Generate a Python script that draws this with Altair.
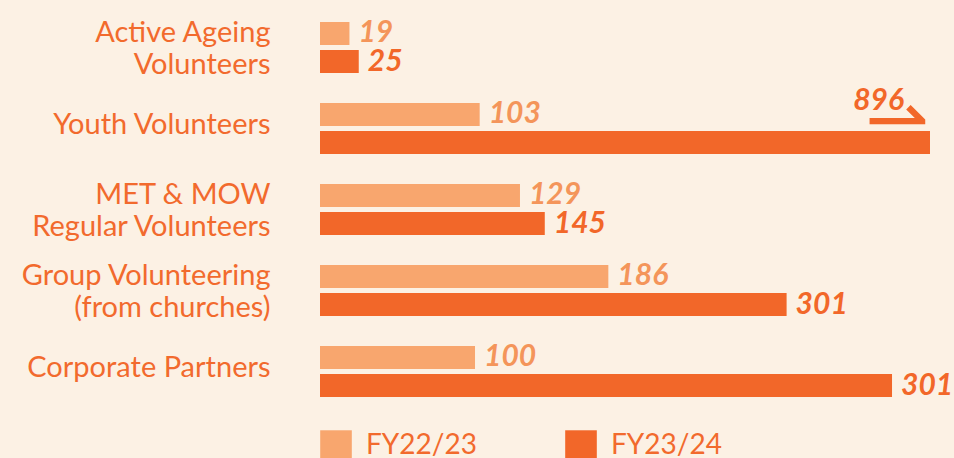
import altair as alt
import pandas as pd

categories = [
    "Active Ageing|Volunteers",
    "Youth Volunteers",
    "MET & MOW|Regular Volunteers",
    "Group Volunteering|(from churches)",
    "Corporate Partners",
]
years = ["FY22/23", "FY23/24"]
fy2223 = [19, 103, 129, 186, 100]
fy2324 = [25, 896, 145, 301, 301]
# bar lengths as drawn in the reference (Youth bar is broken at the edge,
# Corporate Partners' FY23/24 bar is drawn longer than its 301 label)
fy2324_drawn = [25, 896, 145, 301, 369]

X_MAX = 393.5

LIGHT = "#F8A66E"
DARK = "#F26729"
TEXT = "#F26A2D"
LIGHT_TEXT = "#F4955A"
BG = "#FCF1E4"

rows = []
for i, c in enumerate(categories):
    rows.append({"cat": c, "year": years[0], "len": fy2223[i],
                 "label": str(fy2223[i]), "broken": fy2223[i] > X_MAX})
    rows.append({"cat": c, "year": years[1], "len": fy2324_drawn[i],
                 "label": str(fy2324[i]), "broken": fy2324[i] > X_MAX})
df = pd.DataFrame(rows)

xscale = alt.Scale(domain=[0, X_MAX], clamp=True)

base = alt.Chart(df).encode(
    y=alt.Y(
        "cat:N",
        sort=categories,
        scale=alt.Scale(paddingInner=0.37, paddingOuter=0.185),
        axis=alt.Axis(
            title=None,
            labelExpr="split(datum.label, '|')",
            labelFont="Lato",
            labelFontSize=29,
            labelColor=TEXT,
            labelLineHeight=32,
            labelPadding=50,
            labelLimit=330,
            labelOffset={"condition": {"test": "indexof(datum.value, '|') >= 0",
                                       "value": -15},
                         "value": -4},
            domain=False,
            ticks=False,
            grid=False,
        ),
    ),
    yOffset=alt.YOffset("year:N", sort=years,
                        scale=alt.Scale(paddingInner=0.18, paddingOuter=0)),
)

bars = base.mark_bar().encode(
    x=alt.X("len:Q", scale=xscale, axis=None),
    color=alt.Color(
        "year:N",
        sort=years,
        scale=alt.Scale(domain=years, range=[LIGHT, DARK]),
        legend=alt.Legend(
            title=None,
            orient="none",
            legendX=0,
            legendY=423,
            direction="horizontal",
            columns=2,
            symbolType="square",
            symbolSize=1000,
            symbolStrokeWidth=0,
            symbolOpacity=1,
            labelFont="Lato",
            labelFontSize=28,
            labelColor=TEXT,
            labelOffset=14,
            columnPadding=88,
            padding=0,
        ),
    ),
)

text_color = alt.condition(f"datum.year == '{years[0]}'",
                           alt.value(LIGHT_TEXT), alt.value(DARK))

values = base.transform_filter("!datum.broken").mark_text(
    align="left", baseline="middle", dx=9,
    font="Lato", fontSize=30, fontStyle="italic", fontWeight="bold",
).encode(x=alt.X("len:Q", scale=xscale), text="label:N", color=text_color)

broken_label = base.transform_filter("datum.broken").mark_text(
    align="right", baseline="middle", dx=-26, dy=-42,
    font="Lato", fontSize=30, fontStyle="italic", fontWeight="bold",
).encode(x=alt.X("len:Q", scale=xscale), text="label:N", color=text_color)

harpoon = base.transform_filter("datum.broken").mark_text(
    align="right", baseline="middle", dx=-1, dy=-21,
    font="DejaVu Sans", fontSize=76, text="\u21c0",
).encode(x=alt.X("len:Q", scale=xscale), color=text_color)

chart = alt.layer(bars, values, broken_label, harpoon).properties(
    width=610,
    height=405,
    background=BG,
    padding={"left": 320, "top": 7, "right": 24, "bottom": 46},
    autosize=alt.AutoSizeParams(type="none"),
).configure_view(stroke=None)

chart.save("out.html", embed_options={"renderer": "svg", "actions": False})
